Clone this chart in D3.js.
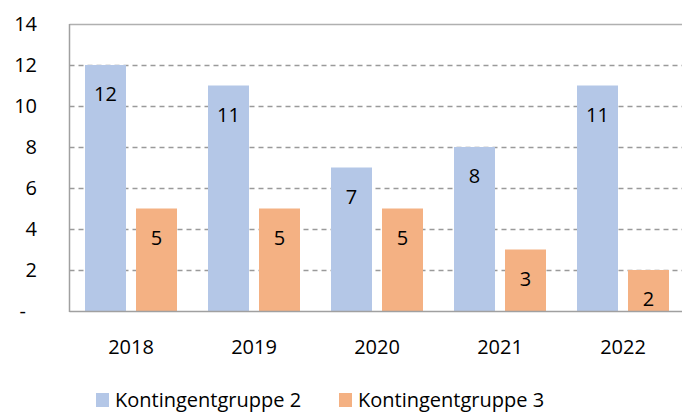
<!DOCTYPE html>
<html>
<head>
<meta charset="utf-8">
<script src="https://cdn.jsdelivr.net/npm/d3@7"></script>
<style>
  body { margin: 0; background: #fff; }
  svg { font-family: "Open Sans", "Noto Sans", sans-serif; }
</style>
</head>
<body>
<svg width="682" height="414"></svg>
<script>
const years = ['2018', '2019', '2020', '2021', '2022'];
const series = ['Kontingentgruppe 2', 'Kontingentgruppe 3'];
const gruppe2 = [12, 11, 7, 8, 11];
const gruppe3 = [5, 5, 5, 3, 2];
const yTicks = [0, 2, 4, 6, 8, 10, 12, 14];
const colors = ['#b4c7e7', '#f4b183'];

const svg = d3.select('svg');
const plotLeft = 69.5, plotRight = 684.5, plotTop = 24, plotBottom = 311;

const x = d3.scaleBand().domain(years).range([plotLeft, plotRight]);
const inner = d3.scaleBand().domain(series).range([15.5, 123 - 15.5]).paddingInner(0.196);
const y = d3.scaleLinear().domain([0, 14]).range([plotBottom, plotTop]);

// gridlines
svg.append('g')
  .selectAll('line')
  .data(yTicks.filter(d => d > 0 && d < 14))
  .join('line')
    .attr('x1', plotLeft).attr('x2', plotRight)
    .attr('y1', d => Math.round(y(d)) + 0.5).attr('y2', d => Math.round(y(d)) + 0.5)
    .attr('stroke', '#9a9a9a')
    .attr('stroke-width', 1.4)
    .attr('stroke-dasharray', '5,4');

// top line at 14
svg.append('line')
  .attr('x1', plotLeft).attr('x2', plotRight)
  .attr('y1', Math.round(y(14)) + 0.5).attr('y2', Math.round(y(14)) + 0.5)
  .attr('stroke', '#b0b0b0').attr('stroke-width', 1.4);

const rows = years.map((yr, i) => ({ year: yr, values: [gruppe2[i], gruppe3[i]] }));

const groups = svg.append('g')
  .selectAll('g')
  .data(rows)
  .join('g')
    .attr('transform', d => `translate(${x(d.year)},0)`);

const cells = groups.selectAll('g')
  .data(d => d.values.map((v, j) => ({ key: series[j], value: v, j })))
  .join('g');

cells.append('rect')
  .attr('x', d => inner(d.key))
  .attr('width', inner.bandwidth())
  .attr('y', d => y(d.value))
  .attr('height', d => y(0) - y(d.value))
  .attr('fill', d => colors[d.j]);

cells.append('text')
  .attr('x', d => inner(d.key) + inner.bandwidth() / 2)
  .attr('y', d => y(d.value) + 36)
  .attr('text-anchor', 'middle')
  .attr('font-size', 20)
  .attr('fill', '#000')
  .text(d => d.value);

// axes lines
svg.append('line')
  .attr('x1', plotLeft).attr('x2', plotLeft)
  .attr('y1', plotTop).attr('y2', plotBottom + 1)
  .attr('stroke', '#a0a0a0').attr('stroke-width', 1.5);
svg.append('line')
  .attr('x1', plotLeft).attr('x2', plotRight)
  .attr('y1', plotBottom + 0.5).attr('y2', plotBottom + 0.5)
  .attr('stroke', '#a0a0a0').attr('stroke-width', 1.5);

// y tick labels
svg.append('g')
  .selectAll('text')
  .data(yTicks)
  .join('text')
    .attr('x', d => d === 0 ? 26 : 37)
    .attr('y', d => y(d) + 7)
    .attr('text-anchor', 'end')
    .attr('font-size', 20)
    .attr('fill', '#000')
    .text(d => d === 0 ? '-' : d);

// x tick labels
svg.append('g')
  .selectAll('text')
  .data(years)
  .join('text')
    .attr('x', d => x(d) + x.bandwidth() / 2)
    .attr('y', 354)
    .attr('text-anchor', 'middle')
    .attr('font-size', 20)
    .attr('fill', '#000')
    .text(d => d);

// legend
const legendX = [96, 339];
const legend = svg.append('g')
  .selectAll('g')
  .data(series)
  .join('g')
    .attr('transform', (d, i) => `translate(${legendX[i]},393)`);
legend.append('rect')
  .attr('width', 13).attr('height', 14)
  .attr('fill', (d, i) => colors[i]);
legend.append('text')
  .attr('x', 19)
  .attr('y', 14)
  .attr('font-size', 20)
  .attr('fill', '#000')
  .text(d => d);
</script>
</body>
</html>
